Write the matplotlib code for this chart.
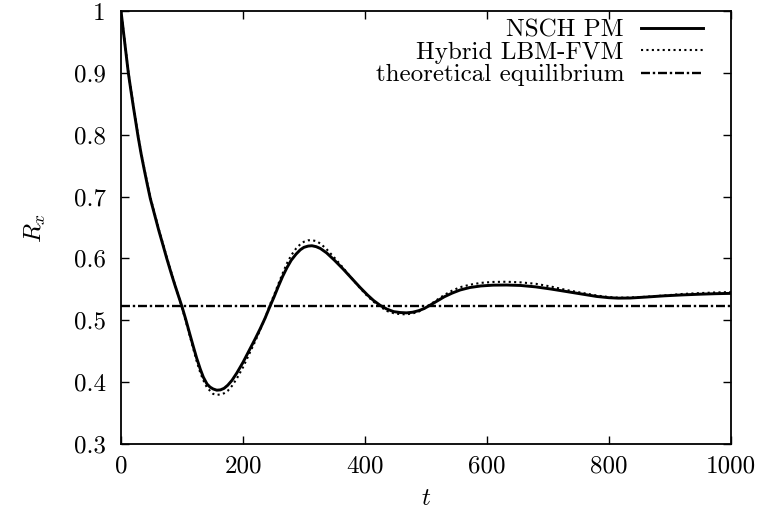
import numpy as np
import matplotlib
matplotlib.use("Agg")
import matplotlib.pyplot as plt

plt.rcParams['font.family'] = 'cmr10'
plt.rcParams['mathtext.fontset'] = 'cm'
plt.rcParams['axes.formatter.use_mathtext'] = True

# shared time samples
t = [0, 3, 6, 12, 16, 20, 24, 28, 33, 38, 43, 48, 55, 62, 69, 75, 82, 88, 94,
     100, 106, 113, 119, 124, 130, 135, 141, 146, 151, 157, 163, 169, 175, 182,
     190, 200, 210, 220, 228, 236, 244, 251, 258, 265, 272, 279, 287, 294, 300,
     307, 313, 320, 327, 337, 350, 364, 378, 392, 404, 414, 425, 436, 447, 458,
     468, 478, 488, 497, 506, 518, 530, 543, 556, 572, 590, 610, 632, 655, 680,
     705, 730, 755, 780, 800, 815, 835, 860, 890, 920, 950, 975, 1000]

# NSCH PM (solid)
r_pm = [1.0, 0.975, 0.95, 0.9, 0.873, 0.847, 0.822, 0.797, 0.769, 0.744, 0.72,
        0.697, 0.671, 0.645, 0.621, 0.6, 0.577, 0.558, 0.54, 0.522, 0.502,
        0.477, 0.456, 0.439, 0.421, 0.408, 0.397, 0.392, 0.389, 0.387, 0.3875,
        0.39, 0.395, 0.403, 0.415, 0.432, 0.451, 0.47, 0.486, 0.503, 0.522,
        0.538, 0.555, 0.571, 0.585, 0.597, 0.607, 0.614, 0.618, 0.62, 0.6205,
        0.619, 0.616, 0.609, 0.597, 0.583, 0.568, 0.553, 0.541, 0.532, 0.524,
        0.518, 0.514, 0.5125, 0.512, 0.513, 0.5155, 0.519, 0.524, 0.531, 0.538,
        0.544, 0.549, 0.553, 0.5555, 0.5568, 0.557, 0.5563, 0.554, 0.5505,
        0.5465, 0.5425, 0.5385, 0.5365, 0.5358, 0.536, 0.5375, 0.5395, 0.541,
        0.5422, 0.543, 0.5435]

# Hybrid LBM-FVM (dotted)
r_hy = [1.0, 0.976, 0.951, 0.902, 0.875, 0.849, 0.824, 0.799, 0.771, 0.746,
        0.722, 0.699, 0.673, 0.647, 0.623, 0.602, 0.579, 0.559, 0.54, 0.521,
        0.499, 0.474, 0.452, 0.434, 0.415, 0.403, 0.391, 0.386, 0.381, 0.3795,
        0.38, 0.382, 0.386, 0.394, 0.406, 0.424, 0.445, 0.466, 0.484, 0.503,
        0.525, 0.541, 0.559, 0.576, 0.592, 0.605, 0.616, 0.623, 0.627, 0.6293,
        0.6295, 0.628, 0.624, 0.615, 0.601, 0.585, 0.568, 0.552, 0.539, 0.53,
        0.522, 0.515, 0.5115, 0.5098, 0.5097, 0.511, 0.514, 0.519, 0.525,
        0.533, 0.541, 0.548, 0.5535, 0.5575, 0.5605, 0.562, 0.5623, 0.5613,
        0.559, 0.5545, 0.549, 0.5445, 0.54, 0.5375, 0.5365, 0.5368, 0.538,
        0.54, 0.5425, 0.544, 0.545, 0.5456]

# theoretical equilibrium
t_eq = [0, 1000]
r_eq = [0.5236, 0.5236]

xticks = [0, 200, 400, 600, 800, 1000]
yticks = [0.3, 0.4, 0.5, 0.6, 0.7, 0.8, 0.9, 1.0]
ytick_labels = ["0.3", "0.4", "0.5", "0.6", "0.7", "0.8", "0.9", "1"]

fs = 18
fig = plt.figure(figsize=(7.63, 5.15), dpi=100)
ax = fig.add_axes([121 / 763, 1 - 444 / 515, 610 / 763, 433 / 515])

ax.plot(t, r_pm, color='black', lw=2.1, label='NSCH PM')
ax.plot(t, r_hy, color='black', lw=1.5, linestyle=(0, (1, 1.6)),
        label='Hybrid LBM-FVM')
ax.plot(t_eq, r_eq, color='black', lw=1.7, linestyle=(0, (3.8, 1.2, 1, 1.2)),
        label='theoretical equilibrium')

ax.set_xlim(0, 1000)
ax.set_ylim(0.3, 1.0)
ax.set_xticks(xticks)
ax.set_xticklabels([str(v) for v in xticks])
ax.set_yticks(yticks)
ax.set_yticklabels(ytick_labels)
ax.tick_params(direction='in', length=6, width=1, top=True, right=True,
               labelsize=fs)
ax.tick_params(axis='y', pad=11)
ax.tick_params(axis='x', pad=8)
for s in ax.spines.values():
    s.set_linewidth(1.3)

ax.set_xlabel('$t$', fontsize=fs)
ax.set_ylabel('$R_x$', fontsize=fs)
ax.xaxis.set_label_coords(0.5, -0.127)
ax.xaxis.label.set_verticalalignment('center')
ax.yaxis.set_label_coords(-0.14, 0.5)
ax.yaxis.label.set_verticalalignment('center')

ax.legend(loc='upper right', bbox_to_anchor=(1 - 28 / 610, 1 - 8 / 433),
          markerfirst=False, frameon=False, fontsize=fs,
          handlelength=2.5, handletextpad=0.66, labelspacing=0.0,
          borderaxespad=0, borderpad=0)

fig.savefig('out.png', dpi=100)
